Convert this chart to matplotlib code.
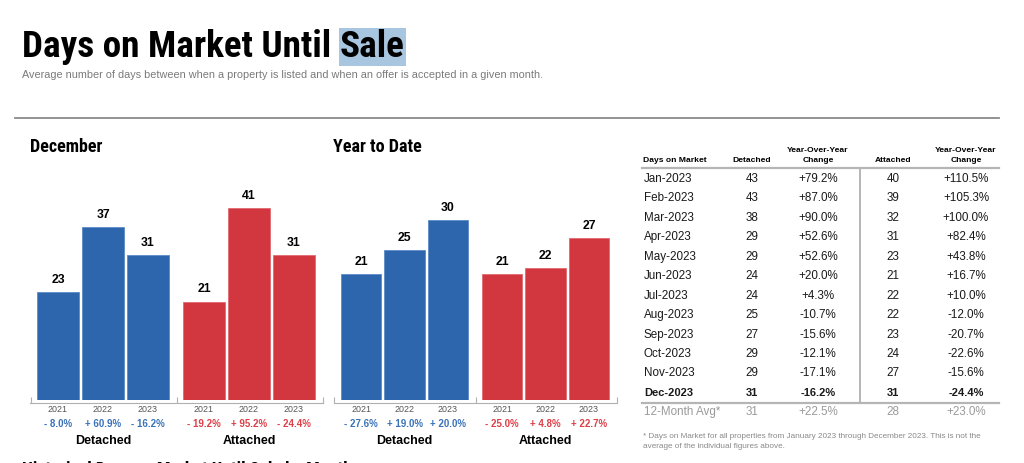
import matplotlib
matplotlib.use("Agg")
import matplotlib.pyplot as plt
from matplotlib import font_manager
from matplotlib.lines import Line2D

# chart values
years = ["2021", "2022", "2023"]
dec_detached = [23, 37, 31]
dec_attached = [21, 41, 31]
dec_detached_chg = ["- 8.0%", "+ 60.9%", "- 16.2%"]
dec_attached_chg = ["- 19.2%", "+ 95.2%", "- 24.4%"]
ytd_detached = [21, 25, 30]
ytd_attached = [21, 22, 27]
ytd_detached_chg = ["- 27.6%", "+ 19.0%", "+ 20.0%"]
ytd_attached_chg = ["- 25.0%", "+ 4.8%", "+ 22.7%"]

months = ["Jan-2023", "Feb-2023", "Mar-2023", "Apr-2023", "May-2023", "Jun-2023",
          "Jul-2023", "Aug-2023", "Sep-2023", "Oct-2023", "Nov-2023", "Dec-2023"]
tbl_detached = [43, 43, 38, 29, 29, 24, 24, 25, 27, 29, 29, 31]
tbl_detached_chg = ["+79.2%", "+87.0%", "+90.0%", "+52.6%", "+52.6%", "+20.0%",
                    "+4.3%", "-10.7%", "-15.6%", "-12.1%", "-17.1%", "-16.2%"]
tbl_attached = [40, 39, 32, 31, 23, 21, 22, 22, 23, 24, 27, 31]
tbl_attached_chg = ["+110.5%", "+105.3%", "+100.0%", "+82.4%", "+43.8%", "+16.7%",
                    "+10.0%", "-12.0%", "-20.7%", "-22.6%", "-15.6%", "-24.4%"]
avg_row = ["12-Month Avg*", "31", "+22.5%", "28", "+23.0%"]

BLUE = "#2d66ad"
RED = "#d2363f"
BLUE_TXT = "#3a72b8"
RED_TXT = "#dc3f48"

names = {f.name for f in font_manager.fontManager.ttflist}
SANS = "Liberation Sans" if "Liberation Sans" in names else "DejaVu Sans"
# condensed face for the headings
NARROW, STRETCH = "DejaVu Sans", "condensed"
for cand in ["Liberation Sans Narrow", "Roboto Condensed", "Open Sans Condensed"]:
    if cand in names:
        NARROW, STRETCH = cand, "normal"
        break
plt.rcParams["font.family"] = SANS

W, H = 1024, 463
fig = plt.figure(figsize=(W / 100, H / 100), dpi=100)
r = fig.canvas.get_renderer()


def fx(px):
    return px / W


def fy(py):
    return 1 - py / H


def head(x, y, s, size, target=None, **kw):
    t = fig.text(fx(x), fy(y), s, family=NARROW, fontstretch=STRETCH, weight="bold",
                 fontsize=size, ha="left", **kw)
    if target:
        w = t.get_window_extent(r).width
        t.set_fontsize(size * min(1.0, target / w))
    return t


# title with highlighted last word
t1 = head(22, 57, "Days on Market Until ", 27, target=318, va="baseline")
bb = t1.get_window_extent(r)
fig.text(bb.x1 / W, fy(57), "Sale", family=NARROW, fontstretch=STRETCH, weight="bold",
         fontsize=t1.get_fontsize(), va="baseline", ha="left",
         bbox=dict(facecolor="#a9c6e0", edgecolor="none", pad=0.8))
fig.text(fx(22), fy(75), "Average number of days between when a property is listed and when an offer is accepted in a given month.",
         fontsize=7.85, color="#7a7a7a", va="center", ha="left")
fig.add_artist(Line2D([fx(15), fx(999)], [fy(118), fy(118)], color="#8a8a8a", lw=1.3))

head(30, 147, "December", 13, target=75, va="center")
head(333, 147, "Year to Date", 13, target=89, va="center")
head(22, 470, "Historical Days on Market Until Sale by Month", 13, va="center")


def bar_chart(left, width, ymax, det, att, det_chg, att_chg):
    ax = fig.add_axes([fx(left), fy(400), fx(width), (400 - 190) / H])
    ax.set_xlim(0, 293)
    ax.set_ylim(0, ymax)
    xd = [28 + 45 * i for i in range(3)]
    xa = [174 + 45 * i for i in range(3)]
    ax.bar(xd, det, width=42, color=BLUE, edgecolor="#5b8bc8", lw=0.6)
    ax.bar(xa, att, width=42, color=RED, edgecolor="#e26a70", lw=0.6)
    for s in ["top", "left", "right"]:
        ax.spines[s].set_visible(False)
    ax.spines["bottom"].set_position(("outward", 2.2))
    ax.spines["bottom"].set_color("#b0b0b0")
    ax.set_yticks([])
    ax.set_xticks([0.5, 146.5, 292.5])
    ax.tick_params(axis="x", direction="in", length=4, color="#b0b0b0", labelbottom=False)
    for xs, vals, chg, col in [(xd, det, det_chg, BLUE_TXT), (xa, att, att_chg, RED_TXT)]:
        for x, v, c, yr in zip(xs, vals, chg, years):
            ax.annotate(str(v), (x, v), xytext=(0, 4.5), textcoords="offset points",
                        ha="center", va="bottom", fontsize=8.8, weight="bold")
            ax.annotate(yr, (x, 0), xycoords=("data", "axes fraction"), xytext=(0, -6.6),
                        textcoords="offset points", ha="center", va="center",
                        fontsize=6.4, color="#555555")
            ax.annotate(c, (x, 0), xycoords=("data", "axes fraction"), xytext=(0, -17.3),
                        textcoords="offset points", ha="center", va="center",
                        fontsize=7, weight="bold", color=col)
    for x, lab in [(73, "Detached"), (219, "Attached")]:
        ax.annotate(lab, (x, 0), xycoords=("data", "axes fraction"), xytext=(0, -29.5),
                    textcoords="offset points", ha="center", va="center",
                    fontsize=9, weight="bold")
    return ax


bar_chart(30, 293, 210 / 4.68, dec_detached, dec_attached, dec_detached_chg, dec_attached_chg)
bar_chart(334, 283, 35, ytd_detached, ytd_attached, ytd_detached_chg, ytd_attached_chg)

# table
col_x = [644, 752, 818, 893, 966]
hdr_y = 160
hfs = 6.1
fig.text(fx(col_x[0] - 1), fy(hdr_y), "Days on Market", fontsize=hfs, weight="bold", va="center")
fig.text(fx(col_x[1]), fy(hdr_y), "Detached", fontsize=hfs, weight="bold", va="center", ha="center")
fig.text(fx(col_x[3]), fy(hdr_y), "Attached", fontsize=hfs, weight="bold", va="center", ha="center")
for cx in (col_x[2], col_x[4]):
    fig.text(fx(cx), fy(hdr_y - 4.5), "Year-Over-Year\nChange", fontsize=hfs, weight="bold",
             va="center", ha="center", linespacing=1.55)
fig.add_artist(Line2D([fx(642), fx(999)], [fy(168), fy(168)], color="#b5b5b5", lw=1.6))

row_y0, step = 179, 19.45
for i, (m, d, dc, a, ac) in enumerate(zip(months, tbl_detached, tbl_detached_chg,
                                           tbl_attached, tbl_attached_chg)):
    y = fy(row_y0 + i * step)
    w = "bold" if i == len(months) - 1 else "normal"
    fs = 8.4 if w == "normal" else 8.0
    fig.text(fx(col_x[0]), y, m, fontsize=fs, weight=w, va="center", color="#1a1a1a")
    for cx, val in zip(col_x[1:], [d, dc, a, ac]):
        fig.text(fx(cx), y, str(val), fontsize=fs, weight=w, va="center", ha="center", color="#1a1a1a")
y = fy(row_y0 + 12 * step)
fig.text(fx(col_x[0]), y, avg_row[0], fontsize=8.4, va="center", color="#9a9a9a")
for cx, val in zip(col_x[1:], avg_row[1:]):
    fig.text(fx(cx), y, val, fontsize=8.4, va="center", ha="center", color="#9a9a9a")
fig.add_artist(Line2D([fx(642), fx(999)], [fy(403), fy(403)], color="#b5b5b5", lw=1.6))
fig.add_artist(Line2D([fx(860), fx(860)], [fy(169), fy(402)], color="#b5b5b5", lw=1.4))

fig.text(fx(643), fy(436), "* Days on Market for all properties from January 2023 through December 2023. This is not the",
         fontsize=5.85, color="#8a8a8a", va="center")
fig.text(fx(643), fy(447), "average of the individual figures above.", fontsize=5.85, color="#8a8a8a", va="center")

fig.savefig("out.png", dpi=100)
